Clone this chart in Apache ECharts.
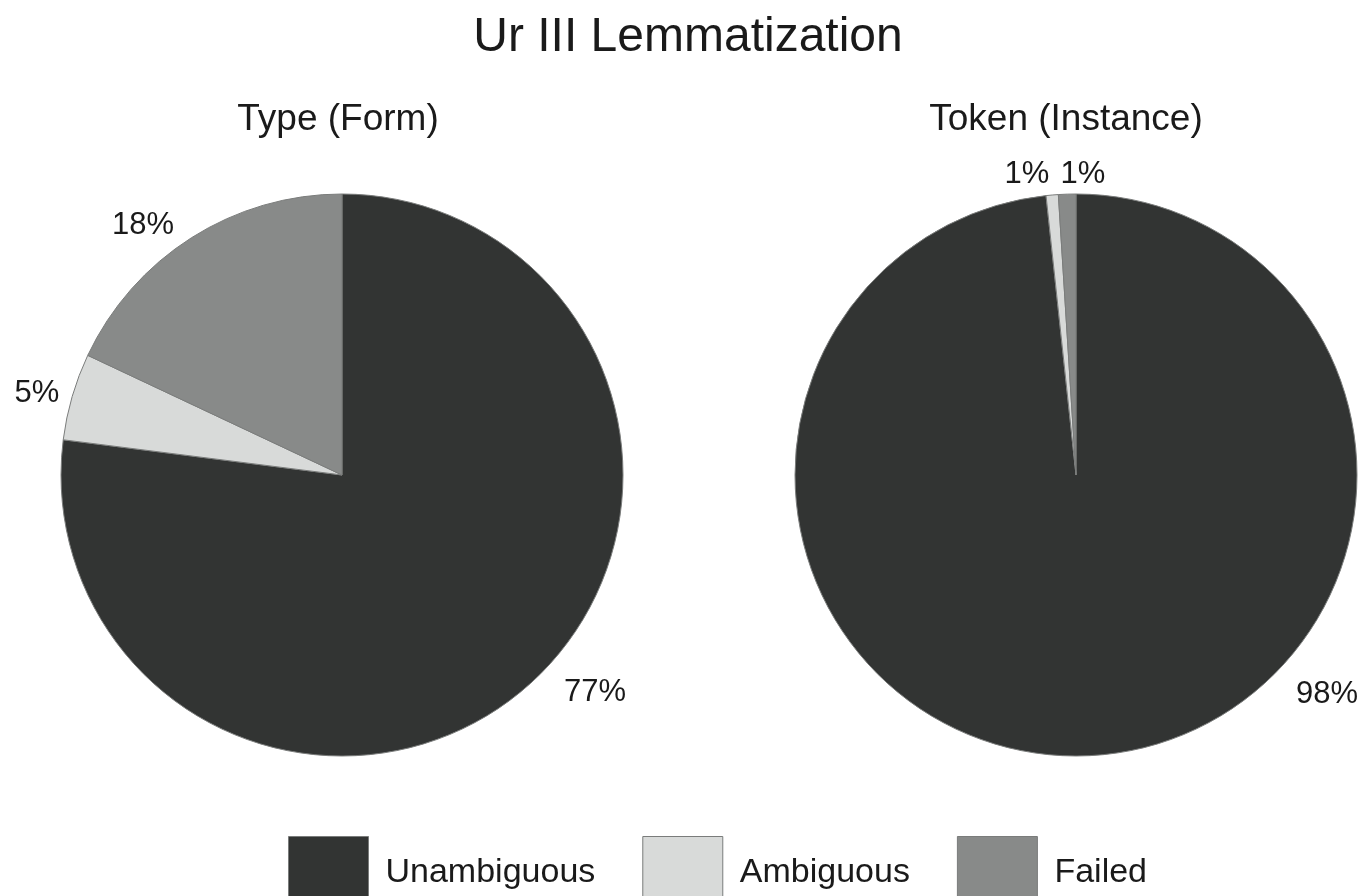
<!DOCTYPE html>
<html>
<head>
<meta charset="utf-8">
<script src="https://cdn.jsdelivr.net/npm/echarts@6/dist/echarts.min.js"></script>
<style>
  html, body { margin: 0; padding: 0; background: #fff; }
  #chart { width: 1363px; height: 896px; }
</style>
</head>
<body>
<div id="chart"></div>
<script>
const categories = ['Unambiguous', 'Ambiguous', 'Failed'];
const typeValues = [77, 5, 18];
const tokenValues = [98.3, 0.7, 1.0];
const colors = ['#323433', '#d8dad9', '#888a89'];

const font = '"Liberation Sans", Arial, Helvetica, sans-serif';

// where each percentage label sits (Excel-style best fit, not mid-angle)
const labelSpots = [
  [[595, 692], [37, 393], [143, 225]],
  [[1327, 694], [1027, 174], [1083, 174]],
];

const toData = (vals) => vals.map((v, i) => ({ name: categories[i], value: v }));

const pieSeries = (name, center, vals) => ({
  name: name,
  type: 'pie',
  center: center,
  radius: 281,
  startAngle: 90,
  clockwise: true,
  silent: true,
  itemStyle: {
    borderColor: '#7a7c7b',
    borderWidth: 1,
  },
  label: {
    show: true,
    position: 'outside',
    overflow: 'none',
    color: '#1a1a1a',
    fontFamily: font,
    fontSize: 31,
    formatter: (p) => Math.round(p.percent) + '%',
  },
  labelLine: { show: false },
  labelLayout: (params) => {
    const spot = labelSpots[params.seriesIndex][params.dataIndex]
    return {
      x: spot[0],
      y: spot[1],
      align: 'center',
      verticalAlign: 'middle',
      hideOverlap: false,
      moveOverlap: false,
    }
  },
  data: toData(vals),
})

const chart = echarts.init(document.getElementById('chart'))
chart.setOption({
  animation: false,
  color: colors,
  title: [
    {
      text: 'Ur III Lemmatization',
      left: 683,
      top: 9,
      textAlign: 'center',
      textStyle: { fontFamily: font, fontSize: 48, fontWeight: 'normal', color: '#1a1a1a' },
    },
    {
      text: 'Type (Form)',
      left: 333,
      top: 96,
      textAlign: 'center',
      textStyle: { fontFamily: font, fontSize: 37, fontWeight: 'normal', color: '#1a1a1a' },
    },
    {
      text: 'Token (Instance)',
      left: 1061,
      top: 96,
      textAlign: 'center',
      textStyle: { fontFamily: font, fontSize: 37, fontWeight: 'normal', color: '#1a1a1a' },
    },
  ],
  legend: {
    data: categories,
    left: 283,
    top: 831,
    orient: 'horizontal',
    itemWidth: 80,
    itemHeight: 72,
    itemGap: 47,
    icon: 'rect',
    selectedMode: false,
    itemStyle: { borderColor: '#7a7c7b', borderWidth: 1 },
    textStyle: {
      fontFamily: font,
      fontSize: 34,
      color: '#1a1a1a',
      padding: [5, 0, 0, 12],
    },
  },
  series: [
    pieSeries('Type (Form)', [342, 475], typeValues),
    pieSeries('Token (Instance)', [1076, 475], tokenValues),
  ],
})
</script>
</body>
</html>
